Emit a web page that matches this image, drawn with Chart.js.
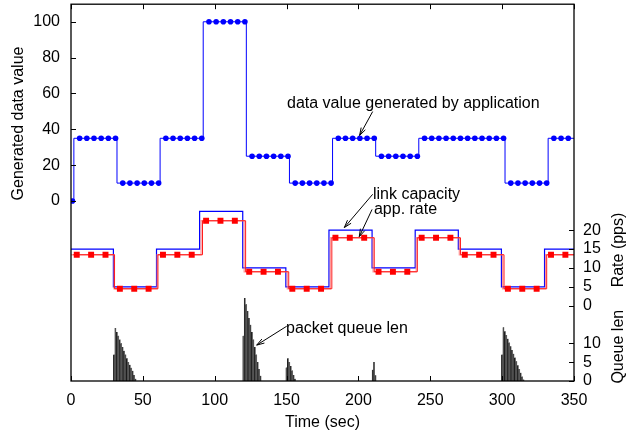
<!DOCTYPE html>
<html lang="en">
<head>
<meta charset="UTF-8" />
<title>Generated data, rate and queue length</title>
<script src="https://cdn.jsdelivr.net/npm/chart.js@4"></script>
<style>
  html, body { margin: 0; padding: 0; background: #fff; }
  #wrap { width: 628px; height: 434px; position: relative; }
</style>
</head>
<body>
<div id="wrap"><canvas id="queueChart"></canvas></div>
<script>
// top panel: value generated by the application, one marker every 5 s
const dataMarkTimes = [1, 6, 11, 16, 21, 26, 31, 36, 41, 46, 51, 56, 61, 66, 71, 76, 81, 86, 91, 96,
  101, 106, 111, 116, 121, 126, 131, 136, 141, 146, 151, 156, 161, 166, 171, 176, 181, 186, 191, 196,
  201, 206, 211, 216, 221, 226, 231, 236, 241, 246, 251, 256, 261, 266, 271, 276, 281, 286, 291, 296,
  301, 306, 311, 316, 321, 326, 331, 336, 341, 346];
const dataMarkValues = [0, 35, 35, 35, 35, 35, 35, 10, 10, 10, 10, 10, 10, 35, 35, 35, 35, 35, 35, 100,
  100, 100, 100, 100, 100, 25, 25, 25, 25, 25, 25, 10, 10, 10, 10, 10, 10, 35, 35, 35,
  35, 35, 35, 25, 25, 25, 25, 25, 25, 35, 35, 35, 35, 35, 35, 35, 35, 35, 35, 35,
  35, 10, 10, 10, 10, 10, 10, 35, 35, 35];
// where each new data value starts (step line)
const dataStepTimes = [1, 2, 32, 62, 92, 122, 152, 182, 212, 242, 302, 332, 350];
const dataStepValues = [0, 35, 10, 35, 100, 25, 10, 35, 25, 35, 10, 35, 35];

// middle panel: rates in pps
const capacityTimes = [0, 29.5, 59.5, 89.5, 119.5, 149.5, 179.5, 209.5, 239.5, 269.5, 299.5, 329.5, 350];
const capacityValues = [15, 5, 15, 25, 10, 5, 20, 10, 20, 15, 5, 15, 15];
const appRateTimes = [1.5, 30.3, 60.5, 91.5, 121.5, 151.5, 181.5, 211, 241, 271, 301.3, 331, 350];
const appRateValues = [13.5, 4.5, 13.5, 22.5, 9, 4.5, 18, 9, 18, 13.5, 4.5, 13.5, 13.5];
const sendRateTimes = [0, 29.9, 59.9, 90.5, 120.5, 150.5, 180.5, 210.2, 240.2, 270.2, 300.3, 330.2, 350];
const rateMarkTimes = [4, 14, 24, 34, 44, 54, 64, 74, 84, 94, 104, 114, 124, 134, 144, 154, 164, 174,
  184, 194, 204, 214, 224, 234, 244, 254, 264, 274, 284, 294, 304, 314, 324, 334, 344];
const rateMarkValues = [13.5, 13.5, 13.5, 4.5, 4.5, 4.5, 13.5, 13.5, 13.5, 22.5, 22.5, 22.5,
  9, 9, 9, 4.5, 4.5, 4.5, 18, 18, 18, 9, 9, 9, 18, 18, 18, 13.5, 13.5, 13.5, 4.5, 4.5, 4.5, 13.5, 13.5];

// bottom panel: packet queue length, one bar per second
const queueTimes = [30, 31, 32, 33, 34, 35, 36, 37, 38, 39, 40, 41, 42, 43, 44, 45,
  120, 121, 122, 123, 124, 125, 126, 127, 128, 129, 130, 131, 132,
  150, 151, 152, 153, 154, 155, 156,
  210, 211, 212,
  300, 301, 302, 303, 304, 305, 306, 307, 308, 309, 310, 311, 312, 313, 314, 315];
const queueValues = [7, 14, 13, 12, 11, 10, 9, 8, 7, 6, 5, 4.3, 3.5, 2.7, 1.6, 0.6,
  12, 22, 20.3, 18.5, 16.7, 14.9, 13, 11, 9, 7, 5, 3.2, 1.4,
  3.6, 6, 5, 4, 2.8, 1.6, 0.6,
  3, 5, 1.5,
  7, 14.2, 13.2, 12.2, 11.2, 10.2, 9.2, 8.2, 7.2, 6.2, 5.2, 4.2, 3.2, 2.2, 1.2, 0.4];

const dataTicks = [0, 20, 40, 60, 80, 100];
const rateTicks = [0, 5, 10, 15, 20];
const queueTicks = [0, 5, 10];

// the three panels share one plot box, each value axis only covers its own band
const queueMax = 99.74;
const rateOffset = 19.92;

const notes = [
  { text: 'data value generated by application', axis: 'yData', x: 150.3, y: 51.9 },
  { text: 'link capacity', axis: 'yRate', x: 210.1, y: 28.2 },
  { text: 'app. rate', axis: 'yRate', x: 210.8, y: 24.2 },
  { text: 'packet queue len', axis: 'yQueue', x: 149.6, y: 12.6 }
];
const arrows = [
  { axis: 'yData', from: [209.9, 49.9], to: [200.8, 36.6] },
  { axis: 'yRate', from: [209.9, 29.5], to: [190.2, 20.7] },
  { axis: 'yRate', from: [209.5, 25.5], to: [200.6, 18.3] },
  { axis: 'yQueue', from: [150.1, 14.5], to: [129.2, 9.5] }
];

const pairs = (xs, ys) => xs.map((x, i) => ({ x: x, y: ys[i] }));

const rightTicks = queueTicks.map(v => ({ value: v, label: String(v) }))
  .concat(rateTicks.map(v => ({ value: v + rateOffset, label: String(v) })));

Chart.defaults.font.family = '"Liberation Sans", Arial, sans-serif';
Chart.defaults.font.size = 16;
Chart.defaults.color = '#000';

function drawArrow(ctx, x1, y1, x2, y2) {
  const ang = Math.atan2(y1 - y2, x1 - x2);
  const len = 8, spread = 0.3;
  ctx.beginPath();
  ctx.moveTo(x1, y1);
  ctx.lineTo(x2, y2);
  ctx.moveTo(x2 + len * Math.cos(ang + spread), y2 + len * Math.sin(ang + spread));
  ctx.lineTo(x2, y2);
  ctx.lineTo(x2 + len * Math.cos(ang - spread), y2 + len * Math.sin(ang - spread));
  ctx.stroke();
}

function rotatedText(ctx, text, x, y) {
  ctx.save();
  ctx.translate(x, y);
  ctx.rotate(-Math.PI / 2);
  ctx.textAlign = 'center';
  ctx.fillText(text, 0, 0);
  ctx.restore();
}

// no extra room for half labels at the ends of an axis
function noEdgePadding(s) {
  s.paddingTop = 0; s.paddingBottom = 0; s.paddingLeft = 0; s.paddingRight = 0;
}

// gnuplot style frame: box, inward ticks, axis titles and labels
const framePlugin = {
  id: 'frame',
  afterDatasetsDraw(chart) {
    const { ctx, chartArea: a, scales } = chart;
    ctx.save();
    ctx.strokeStyle = '#000';
    ctx.lineWidth = 1;
    ctx.beginPath();
    scales.x.ticks.forEach(t => {
      const px = Math.round(scales.x.getPixelForValue(t.value)) + 0.5;
      ctx.moveTo(px, a.bottom); ctx.lineTo(px, a.bottom - 5);
      ctx.moveTo(px, a.top); ctx.lineTo(px, a.top + 5);
    });
    scales.yData.ticks.forEach(t => {
      const py = Math.round(scales.yData.getPixelForValue(t.value)) + 0.5;
      ctx.moveTo(a.left, py); ctx.lineTo(a.left + 5, py);
    });
    scales.yQueue.ticks.forEach(t => {
      const py = Math.round(scales.yQueue.getPixelForValue(t.value)) + 0.5;
      ctx.moveTo(a.right, py); ctx.lineTo(a.right - 5, py);
    });
    ctx.stroke();
    ctx.lineWidth = 1.3;
    ctx.strokeRect(a.left, a.top, a.right - a.left, a.bottom - a.top);

    ctx.fillStyle = '#000';
    ctx.font = '16px "Liberation Sans", Arial, sans-serif';
    ctx.textBaseline = 'alphabetic';
    ctx.textAlign = 'left';
    notes.forEach(n => {
      ctx.fillText(n.text, scales.x.getPixelForValue(n.x), scales[n.axis].getPixelForValue(n.y));
    });
    ctx.lineWidth = 1;
    arrows.forEach(ar => {
      const s = scales[ar.axis];
      drawArrow(ctx, scales.x.getPixelForValue(ar.from[0]), s.getPixelForValue(ar.from[1]),
        scales.x.getPixelForValue(ar.to[0]), s.getPixelForValue(ar.to[1]));
    });

    rotatedText(ctx, 'Generated data value', 22.5, 123.5);
    rotatedText(ctx, 'Rate (pps)', 623, 250);
    rotatedText(ctx, 'Queue len', 623, 346.7);
    ctx.textAlign = 'center';
    ctx.fillText('Time (sec)', (a.left + a.right) / 2, 426.5);
    ctx.restore();
  }
};

new Chart(document.getElementById('queueChart'), {
  type: 'line',
  data: {
    datasets: [
      {
        label: 'data markers', data: pairs(dataMarkTimes, dataMarkValues), yAxisID: 'yData',
        showLine: false, pointStyle: 'circle', pointRadius: 2.8, borderWidth: 0,
        backgroundColor: '#0000ff', borderColor: '#0000ff'
      },
      {
        label: 'data value', data: pairs(dataStepTimes, dataStepValues), yAxisID: 'yData',
        stepped: 'before', borderColor: '#0000ff', borderWidth: 1, pointRadius: 0
      },
      {
        label: 'app. rate markers', data: pairs(rateMarkTimes, rateMarkValues), yAxisID: 'yRate',
        showLine: false, pointStyle: 'rect', pointRadius: 4.2, borderWidth: 0,
        backgroundColor: '#ff0000', borderColor: '#ff0000'
      },
      {
        label: 'app. rate', data: pairs(appRateTimes, appRateValues), yAxisID: 'yRate',
        stepped: 'before', borderColor: '#ff1a1a', borderWidth: 1, pointRadius: 0
      },
      {
        label: 'send rate', data: pairs(sendRateTimes, appRateValues), yAxisID: 'yRate',
        stepped: 'before', borderColor: 'rgba(255,120,120,0.75)', borderWidth: 1.3, pointRadius: 0
      },
      {
        label: 'link capacity', data: pairs(capacityTimes, capacityValues), yAxisID: 'yRate',
        stepped: 'before', borderColor: '#0000ff', borderWidth: 1.2, pointRadius: 0
      },
      {
        type: 'bar', label: 'packet queue len', data: pairs(queueTimes, queueValues), yAxisID: 'yQueue',
        backgroundColor: '#5e5e5e', borderColor: '#000', borderWidth: { left: 0.7, right: 0, top: 0, bottom: 0 },
        borderSkipped: false, barPercentage: 1, categoryPercentage: 1
      }
    ]
  },
  options: {
    responsive: true,
    maintainAspectRatio: false,
    animation: false,
    layout: { padding: { top: 2, left: 0, right: 0, bottom: 0 } },
    plugins: { legend: { display: false }, tooltip: { enabled: false } },
    scales: {
      x: {
        type: 'linear', min: 0, max: 350, offset: false,
        ticks: { stepSize: 50, padding: 10 },
        grid: { display: false, drawTicks: false }, border: { display: false },
        afterFit: s => { s.height = 53; noEdgePadding(s); }
      },
      yData: {
        position: 'left', min: -100.4, max: 109.8,
        afterBuildTicks: s => { s.ticks = dataTicks.map(v => ({ value: v })); },
        ticks: { padding: 11, autoSkip: false },
        grid: { display: false, drawTicks: false }, border: { display: false },
        afterFit: s => { s.width = 71; noEdgePadding(s); }
      },
      yRate: {
        position: 'right', display: false, min: -rateOffset, max: queueMax - rateOffset
      },
      yQueue: {
        position: 'right', min: 0, max: queueMax,
        afterBuildTicks: s => { s.ticks = rightTicks.map(t => ({ value: t.value })); },
        ticks: { padding: 9, autoSkip: false, callback: (v, i) => rightTicks[i].label },
        grid: { display: false, drawTicks: false }, border: { display: false },
        afterFit: s => { s.width = 54; noEdgePadding(s); }
      }
    }
  },
  plugins: [framePlugin]
});
</script>
</body>
</html>
